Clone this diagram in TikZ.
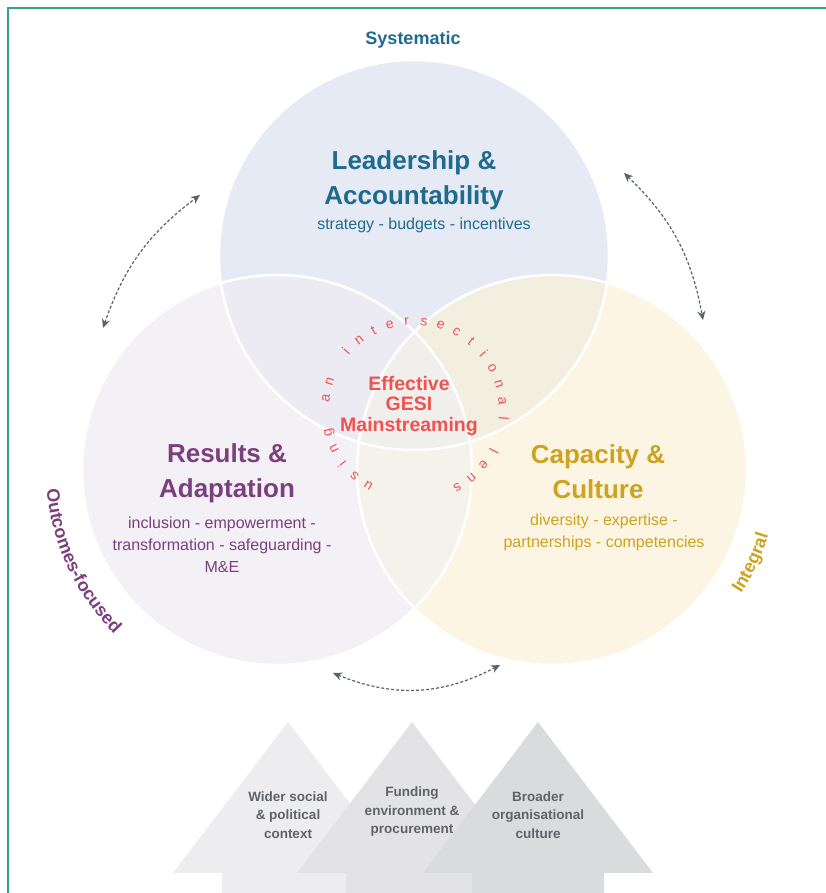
\documentclass[tikz,border=0pt]{standalone}
\usepackage{fontspec}
\setmainfont{Liberation Sans}
\usetikzlibrary{arrows.meta,calc,decorations.text}
\definecolor{cFrame}{HTML}{3A9E91}
\definecolor{cLead}{HTML}{1F6B8E}
\definecolor{cResults}{HTML}{7B3F7E}
\definecolor{cCapacity}{HTML}{CDA31F}
\definecolor{cGesi}{HTML}{F05252}
\definecolor{cDash}{HTML}{5B6168}
\definecolor{cContext}{HTML}{5F6368}
\definecolor{fLead}{HTML}{E6EAF5}
\definecolor{fResults}{HTML}{F3F1F6}
\definecolor{fCapacity}{HTML}{FDF5E3}
\definecolor{fLeadResults}{HTML}{ECEBF3}
\definecolor{fLeadCapacity}{HTML}{F2EFE0}
\definecolor{fResultsCapacity}{HTML}{F5F1EB}
\definecolor{fCore}{HTML}{F1EFEC}
\definecolor{fArrowA}{HTML}{EDEDEF}
\definecolor{fArrowB}{HTML}{E3E3E5}
\definecolor{fArrowC}{HTML}{DADBDD}
\tikzset{
  title/.style={font=\fontsize{26}{35}\selectfont\bfseries,align=center,inner sep=0pt},
  sub/.style={font=\fontsize{16}{22}\selectfont,align=center,inner sep=0pt},
  lensletter/.style={font=\fontsize{14}{14}\selectfont,text=cGesi,inner sep=0pt,anchor=base},
  linkarrow/.style={cDash,line width=1.2pt,dash pattern=on 3pt off 2pt,
    {Stealth[length=9pt,width=8pt]}-{Stealth[length=9pt,width=8pt]}},
  context/.style={font=\fontsize{13.5}{18.5}\selectfont\bfseries,text=cContext,align=center,inner sep=0pt}
}

\begin{document}
\begin{tikzpicture}[x=1pt,y=1pt]
  \useasboundingbox (0,0) rectangle (826,893);
  % frame: only left and top edges sit on the page
  \draw[cFrame,line width=2pt] (8,-10) -- (8,885) -- (840,885);

  \coordinate (lead) at (414,638);
  \coordinate (results) at (277,423);
  \coordinate (capacity) at (552,423);
  \coordinate (gesiCentre) at (414,483);

  % the three discs and their overlaps
  \fill[fLead] (lead) circle[radius=195pt];
  \fill[fResults] (results) circle[radius=195pt];
  \fill[fCapacity] (capacity) circle[radius=195pt];
  \begin{scope}
    \clip (lead) circle[radius=195pt];
    \fill[fLeadCapacity] (capacity) circle[radius=195pt];
    \fill[fLeadResults] (results) circle[radius=195pt];
  \end{scope}
  \begin{scope}
    \clip (results) circle[radius=195pt];
    \fill[fResultsCapacity] (capacity) circle[radius=195pt];
    \clip (lead) circle[radius=195pt];
    \fill[fCore] (capacity) circle[radius=195pt];
  \end{scope}
  \draw[white,line width=2.5pt] (lead) circle[radius=195pt]
    (results) circle[radius=195pt] (capacity) circle[radius=195pt];

  \node[title,text=cLead] (leadTitle) at (414,713) {Leadership \&\\Accountability};
  \node[sub,text=cLead] (leadSub) at (424,668) {strategy - budgets - incentives};
  \node[title,text=cResults] (resultsTitle) at (227,420) {Results \&\\Adaptation};
  \node[sub,text=cResults] (resultsSub) at (222,348) {inclusion - empowerment -\\transformation - safeguarding -\\M\&E};
  \node[title,text=cCapacity] (capacityTitle) at (598,421) {Capacity \&\\Culture};
  \node[sub,text=cCapacity] (capacitySub) at (604,361) {diversity - expertise -\\partnerships - competencies};
  \node[font=\fontsize{19.5}{20.5}\selectfont\bfseries,text=cGesi,align=center,inner sep=0pt]
    (gesi) at (409,487) {Effective\\GESI\\Mainstreaming};

  % lettering round the centre
  \foreach \ch [count=\k from 0] in {u,s,i,n,g,{},a,n,{},i,n,t,e,r,s,e,c,t,i,o,n,a,l,{},l,e,n,s}{
    \pgfmathsetmacro\ang{239-11.1*\k}
    \node[lensletter,rotate=\ang-90] (lens\k) at ($(gesiCentre)+(\ang:85pt)$) {\ch};
  }

  % qualities
  \node[font=\fontsize{18}{18}\selectfont\bfseries,text=cLead] (systematic) at (413,853) {Systematic};
  \path[decorate,decoration={text along path,text align=center,
      text={|\fontsize{18}{18}\selectfont\bfseries\color{cResults}|Outcomes-focused}}]
    ([shift={(175:231pt)}]results) arc[start angle=175,end angle=235,radius=231pt];
  \path[decorate,decoration={text along path,text align=center,
      text={|\fontsize{18}{18}\selectfont\bfseries\color{cCapacity}|Integral}}]
    ([shift={(-50:226pt)}]capacity) arc[start angle=-50,end angle=0,radius=226pt];

  % links between the discs
  \coordinate (linkLa) at (103,565);
  \coordinate (linkLb) at (200,698);
  \coordinate (linkRa) at (624,720);
  \coordinate (linkRb) at (703,573);
  \coordinate (linkBa) at (333,220);
  \coordinate (linkBb) at (500,228);
  \draw[linkarrow] (linkLa) to[bend left=17] (linkLb);
  \draw[linkarrow] (linkRa) to[bend left=18] (linkRb);
  \draw[linkarrow] (linkBa) to[bend right=25] (linkBb);

  % context arrows
  \foreach \cx/\shade in {288/fArrowA,412/fArrowB,538/fArrowC}
    \fill[\shade] (\cx,171) -- ++(115,-151) -- ++(-49,0) -- ++(0,-25) -- ++(-132,0)
      -- ++(0,25) -- ++(-49,0) -- cycle;
  \node[context] (wider) at (288,78) {Wider social\\\& political\\context};
  \node[context] (funding) at (412,81) {Funding\\environment \&\\procurement};
  \node[context] (broader) at (538,78) {Broader\\organisational\\culture};
\end{tikzpicture}
\end{document}
